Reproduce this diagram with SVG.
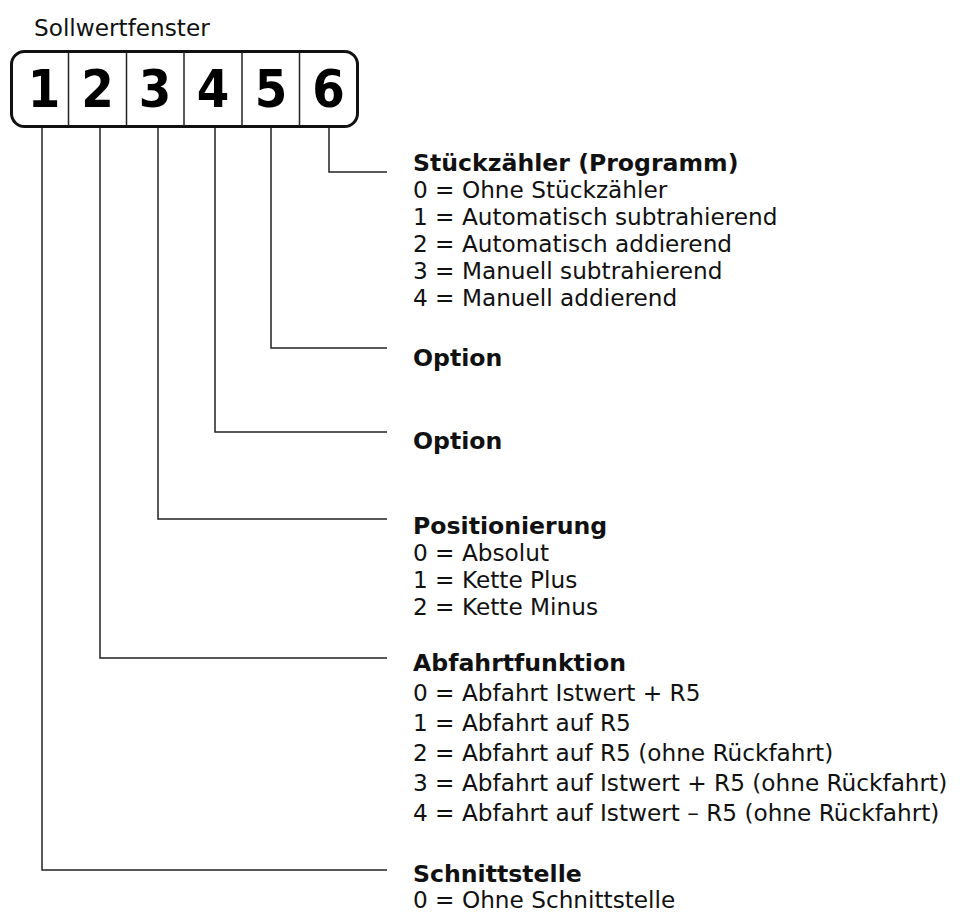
<svg xmlns="http://www.w3.org/2000/svg" width="963" height="913" viewBox="0 0 963 913">
<style>
.t{font-family:"DejaVu Sans","Verdana",sans-serif;font-size:23.2px;fill:#111}
.h{font-weight:bold;font-size:23.6px}
.d{font-family:"DejaVu Sans Condensed","DejaVu Sans",sans-serif;font-stretch:condensed;font-weight:bold;font-size:52px;fill:#000;text-anchor:middle}
.c{fill:none;stroke:#222;stroke-width:1.5}
.div{stroke:#222;stroke-width:1.5}
</style>
<rect width="963" height="913" fill="#fff"/>
<text class="t" x="34" y="36">Sollwertfenster</text>
<g id="display">
<rect x="11.5" y="51.5" width="346" height="75" rx="13" fill="none" stroke="#111" stroke-width="3"/>
<line class="div" x1="68.5" y1="52" x2="68.5" y2="126"/>
<line class="div" x1="126.5" y1="52" x2="126.5" y2="126"/>
<line class="div" x1="184" y1="52" x2="184" y2="126"/>
<line class="div" x1="242" y1="52" x2="242" y2="126"/>
<line class="div" x1="299.5" y1="52" x2="299.5" y2="126"/>
<text class="d" x="44" y="107">1</text>
<text class="d" x="97.5" y="107">2</text>
<text class="d" x="155" y="107">3</text>
<text class="d" x="213" y="107">4</text>
<text class="d" x="271" y="107">5</text>
<text class="d" x="328.5" y="107">6</text>
</g>
<g id="connectors">
<polyline class="c" points="329,128 329,172 387,172"/>
<polyline class="c" points="271,128 271,348 387,348"/>
<polyline class="c" points="215,128 215,432 387,432"/>
<polyline class="c" points="158,128 158,519 387,519"/>
<polyline class="c" points="100,128 100,658 387,658"/>
<polyline class="c" points="42,128 42,870 387,870"/>
</g>
<g id="digit6">
<text class="t h" x="413" y="171">Stückzähler (Programm)</text>
<text class="t" x="413" y="198">0 = Ohne Stückzähler</text>
<text class="t" x="413" y="225">1 = Automatisch subtrahierend</text>
<text class="t" x="413" y="252">2 = Automatisch addierend</text>
<text class="t" x="413" y="279">3 = Manuell subtrahierend</text>
<text class="t" x="413" y="306">4 = Manuell addierend</text>
</g>
<g id="digit5">
<text class="t h" x="413" y="366">Option</text>
</g>
<g id="digit4">
<text class="t h" x="413" y="449">Option</text>
</g>
<g id="digit3">
<text class="t h" x="413" y="534">Positionierung</text>
<text class="t" x="413" y="561">0 = Absolut</text>
<text class="t" x="413" y="588">1 = Kette Plus</text>
<text class="t" x="413" y="615">2 = Kette Minus</text>
</g>
<g id="digit2">
<text class="t h" x="413" y="671">Abfahrtfunktion</text>
<text class="t" x="413" y="701">0 = Abfahrt Istwert + R5</text>
<text class="t" x="413" y="731">1 = Abfahrt auf R5</text>
<text class="t" x="413" y="761">2 = Abfahrt auf R5 (ohne Rückfahrt)</text>
<text class="t" x="413" y="791">3 = Abfahrt auf Istwert + R5 (ohne Rückfahrt)</text>
<text class="t" x="413" y="821">4 = Abfahrt auf Istwert – R5 (ohne Rückfahrt)</text>
</g>
<g id="digit1">
<text class="t h" x="413" y="882">Schnittstelle</text>
<text class="t" x="413" y="908">0 = Ohne Schnittstelle</text>
</g>
</svg>
